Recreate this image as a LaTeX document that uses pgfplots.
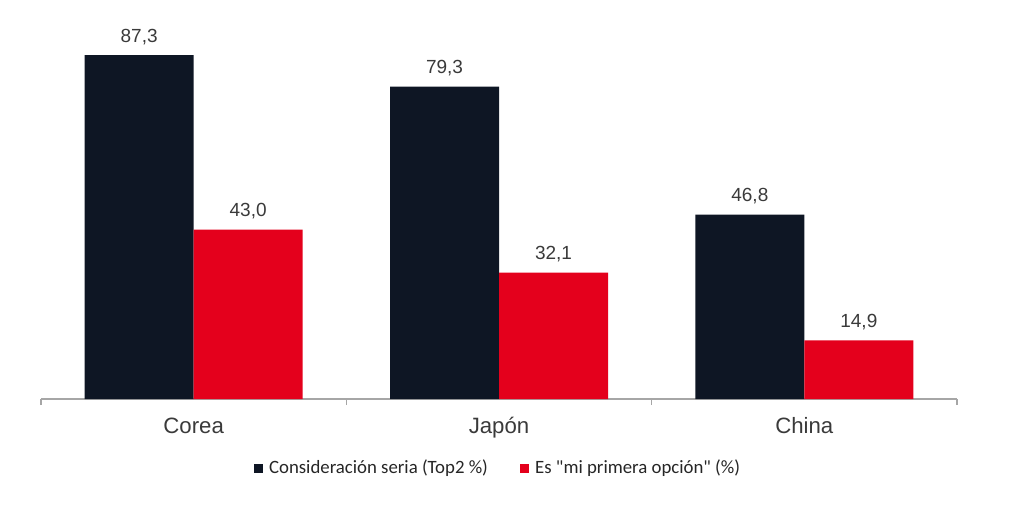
\documentclass[border=0pt]{standalone}
\usepackage{pgfplots}
\pgfplotsset{compat=1.18}
\usepackage{fontspec}
\setmainfont{Liberation Sans}
\newfontfamily\carlito{Carlito}
\definecolor{darkbar}{HTML}{0E1624}
\definecolor{redbar}{HTML}{E4001C}
\definecolor{axgray}{HTML}{A6A6A6}
\definecolor{lbl}{HTML}{3A3A3A}
\begin{document}
\begin{tikzpicture}
\useasboundingbox (0,0) rectangle (512pt,260.5pt);
\begin{axis}[
  at={(20.5pt,61pt)}, anchor=south west,
  scale only axis, width=458pt, height=197pt,
  xmin=-0.5, xmax=2.5, ymin=0, ymax=100,
  enlargelimits=false, clip=false,
  ybar=0pt, bar width=54.5pt,
  axis x line*=bottom, axis y line=none,
  axis line style={axgray, line width=0.7pt, -},
  xtick={0,1,2}, xticklabels={Corea,Japón,China},
  major tick length=0pt,
  minor xtick={-0.5,0.5,1.5,2.5},
  minor tick length=3pt,
  tick align=outside,
  minor tick style={axgray, line width=0.7pt},
  xticklabel style={font=\fontsize{11.1}{13}\selectfont, text=lbl, anchor=base, inner sep=0pt, yshift=-17pt},
  nodes near coords,
  nodes near coords style={font=\fontsize{9.5}{11}\selectfont, text=lbl, anchor=south, inner sep=0pt, yshift=5pt},
  /pgf/number format/use comma,
  /pgf/number format/fixed,
  /pgf/number format/fixed zerofill,
  /pgf/number format/precision=1,
  /pgf/number format/assume math mode=true,
  legend columns=2,
  legend style={at={(0.5,-0.176)}, anchor=center, draw=none, fill=none,
    font=\carlito\fontsize{9.4}{11}\selectfont, text=black!85,
    /tikz/every even column/.append style={column sep=14pt},
    /tikz/every odd column/.append style={column sep=1pt}},
]
\addplot[fill=darkbar, draw=none,
  legend image code/.code={\fill[darkbar] (0pt,-2.3pt) rectangle (4.6pt,2.3pt);}]
  coordinates {(0,87.3) (1,79.3) (2,46.8)};
\addplot[fill=redbar, draw=none,
  legend image code/.code={\fill[redbar] (0pt,-2.3pt) rectangle (4.6pt,2.3pt);}]
  coordinates {(0,43.0) (1,32.1) (2,14.9)};
\legend{Consideración seria (Top2 \%), Es "mi primera opción" (\%)}
\end{axis}
\end{tikzpicture}
\end{document}
